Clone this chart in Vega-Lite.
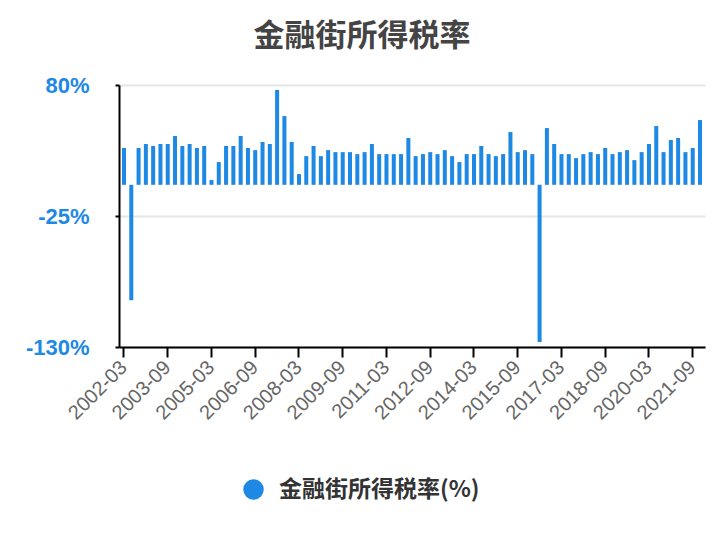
{
  "$schema": "https://vega.github.io/schema/vega-lite/v6.json",
  "width": 586,
  "height": 262,
  "autosize": "none",
  "padding": {"left": 119, "top": 85, "right": 19, "bottom": 193},
  "background": "white",
  "title": {
    "text": "金融街所得税率",
    "anchor": "middle",
    "frame": "group",
    "dx": -50,
    "offset": 21,
    "fontSize": 31,
    "font": "Noto Sans CJK SC",
    "fontWeight": "bold",
    "color": "#444444"
  },
  "data": {
    "values": [
      {"date": "2002-03", "value": 29.5}, {"date": "2002-06", "value": -92.5}, {"date": "2002-09", "value": 29.5}, {"date": "2002-12", "value": 32.7},
      {"date": "2003-03", "value": 31.1}, {"date": "2003-06", "value": 32.7}, {"date": "2003-09", "value": 32.7}, {"date": "2003-12", "value": 39.1},
      {"date": "2004-03", "value": 31.1}, {"date": "2004-06", "value": 32.7}, {"date": "2004-09", "value": 29.5}, {"date": "2004-12", "value": 31.1},
      {"date": "2005-03", "value": 3.8}, {"date": "2005-06", "value": 18.2}, {"date": "2005-09", "value": 31.1}, {"date": "2005-12", "value": 31.1},
      {"date": "2006-03", "value": 39.1}, {"date": "2006-06", "value": 29.5}, {"date": "2006-09", "value": 27.8}, {"date": "2006-12", "value": 34.3},
      {"date": "2007-03", "value": 32.7}, {"date": "2007-06", "value": 76.0}, {"date": "2007-09", "value": 55.1}, {"date": "2007-12", "value": 34.3},
      {"date": "2008-03", "value": 8.6}, {"date": "2008-06", "value": 23.0}, {"date": "2008-09", "value": 31.1}, {"date": "2008-12", "value": 23.0},
      {"date": "2009-03", "value": 27.8}, {"date": "2009-06", "value": 26.2}, {"date": "2009-09", "value": 26.2}, {"date": "2009-12", "value": 26.2},
      {"date": "2010-03", "value": 24.6}, {"date": "2010-06", "value": 26.2}, {"date": "2010-09", "value": 32.7}, {"date": "2010-12", "value": 24.6},
      {"date": "2011-03", "value": 24.6}, {"date": "2011-06", "value": 24.6}, {"date": "2011-09", "value": 24.6}, {"date": "2011-12", "value": 37.5},
      {"date": "2012-03", "value": 23.0}, {"date": "2012-06", "value": 24.6}, {"date": "2012-09", "value": 26.2}, {"date": "2012-12", "value": 24.6},
      {"date": "2013-03", "value": 27.8}, {"date": "2013-06", "value": 23.0}, {"date": "2013-09", "value": 18.2}, {"date": "2013-12", "value": 24.6},
      {"date": "2014-03", "value": 24.6}, {"date": "2014-06", "value": 31.1}, {"date": "2014-09", "value": 24.6}, {"date": "2014-12", "value": 23.0},
      {"date": "2015-03", "value": 24.6}, {"date": "2015-06", "value": 42.3}, {"date": "2015-09", "value": 26.2}, {"date": "2015-12", "value": 27.8},
      {"date": "2016-03", "value": 24.6}, {"date": "2016-06", "value": -126.0}, {"date": "2016-09", "value": 45.5}, {"date": "2016-12", "value": 32.7},
      {"date": "2017-03", "value": 24.6}, {"date": "2017-06", "value": 24.6}, {"date": "2017-09", "value": 21.4}, {"date": "2017-12", "value": 24.6},
      {"date": "2018-03", "value": 26.2}, {"date": "2018-06", "value": 24.6}, {"date": "2018-09", "value": 29.5}, {"date": "2018-12", "value": 24.6},
      {"date": "2019-03", "value": 26.2}, {"date": "2019-06", "value": 27.8}, {"date": "2019-09", "value": 19.8}, {"date": "2019-12", "value": 26.2},
      {"date": "2020-03", "value": 32.7}, {"date": "2020-06", "value": 47.1}, {"date": "2020-09", "value": 26.2}, {"date": "2020-12", "value": 35.9},
      {"date": "2021-03", "value": 37.5}, {"date": "2021-06", "value": 26.2}, {"date": "2021-09", "value": 29.5}, {"date": "2021-12", "value": 51.9}
    ]
  },
  "mark": {"type": "bar"},
  "encoding": {
    "x": {
      "field": "date",
      "type": "ordinal",
      "sort": null,
      "scale": {"paddingInner": 0.45, "paddingOuter": 0.41},
      "axis": {
        "title": null,
        "values": ["2002-03", "2003-09", "2005-03", "2006-09", "2008-03", "2009-09", "2011-03", "2012-09", "2014-03", "2015-09", "2017-03", "2018-09", "2020-03", "2021-09"],
        "labelAngle": -45,
        "labelAlign": "right",
        "labelBaseline": "middle",
        "labelColor": "#666666",
        "labelFont": "Liberation Sans",
        "labelFontSize": 20,
        "labelPadding": 7,
        "tickSize": 10,
        "tickWidth": 2,
        "tickColor": "#000000",
        "domainColor": "#000000",
        "domainWidth": 2,
        "grid": false
      }
    },
    "y": {
      "field": "value",
      "type": "quantitative",
      "scale": {"domain": [-130, 80], "nice": false, "zero": false},
      "axis": {
        "title": null,
        "values": [-130, -25, 80],
        "labelExpr": "datum.value + '%'",
        "labelColor": "#1e88e5",
        "labelFont": "Liberation Sans",
        "labelFontSize": 22,
        "labelFontWeight": "bold",
        "labelPadding": 26,
        "tickSize": 4,
        "tickWidth": 2,
        "tickColor": "#000000",
        "domainColor": "#000000",
        "domainWidth": 2,
        "grid": true,
        "gridColor": "#e6e6e6",
        "gridWidth": 2
      }
    },
    "color": {
      "datum": "金融街所得税率(%)",
      "type": "nominal",
      "scale": {"range": ["#1e88e5"]},
      "legend": {
        "title": null,
        "orient": "none",
        "legendX": 123,
        "legendY": 393,
        "symbolType": "circle",
        "symbolSize": 420,
        "symbolStrokeWidth": 0,
        "labelFont": "Noto Sans CJK SC",
        "labelFontSize": 23,
        "labelFontWeight": "bold",
        "labelColor": "#333333",
        "labelOffset": 14,
        "labelLimit": 0
      }
    }
  },
  "config": {"view": {"stroke": null}}
}
